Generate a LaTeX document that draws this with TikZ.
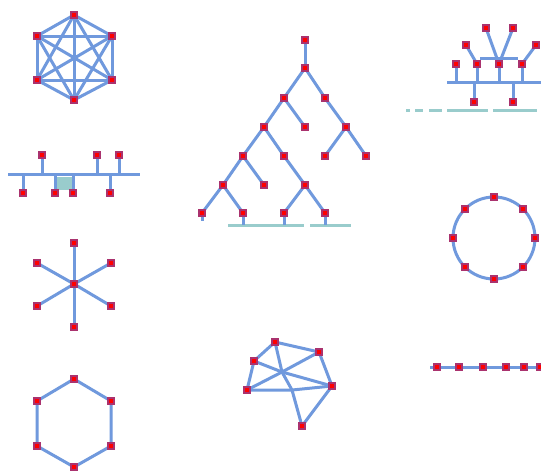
\documentclass[tikz,border=0pt]{standalone}
\usetikzlibrary{backgrounds}
\definecolor{linkblue}{RGB}{112,153,221}
\definecolor{linkteal}{RGB}{153,204,204}
\definecolor{nodepurple}{RGB}{170,50,110}
\begin{document}
\begin{tikzpicture}[x=1pt,y=-1pt,
  nd/.style={rectangle, fill=red, draw=nodepurple, line width=2.2pt, minimum size=5.5pt, inner sep=0pt},
  ln/.style={draw=linkblue, line width=3pt},
  tl/.style={draw=linkteal, line width=3pt}]
\useasboundingbox (0,0) rectangle (541,475);
% ---------- nodes ----------
% complete mesh
\node[nd] (k1) at (74,15) {};
\node[nd] (k2) at (112,36) {};
\node[nd] (k3) at (112,80) {};
\node[nd] (k4) at (74,100) {};
\node[nd] (k5) at (37,80) {};
\node[nd] (k6) at (37,36) {};
\coordinate (kc) at (74,58);
% bus
\coordinate (bl) at (8,174);
\coordinate (br) at (140,174);
\node[nd] (b1) at (42,155) {};
\node[nd] (b2) at (97,155) {};
\node[nd] (b3) at (119,155) {};
\node[nd] (b4) at (23,193) {};
\node[nd] (b5) at (55,193) {};
\node[nd] (b6) at (73,193) {};
\node[nd] (b7) at (110,193) {};
% star
\node[nd] (s0) at (74,284) {};
\node[nd] (s1) at (74,243) {};
\node[nd] (s2) at (111,263) {};
\node[nd] (s3) at (111,306) {};
\node[nd] (s4) at (74,327) {};
\node[nd] (s5) at (37,306) {};
\node[nd] (s6) at (37,263) {};
% ring hexagon
\node[nd] (h1) at (74,379) {};
\node[nd] (h2) at (111,401) {};
\node[nd] (h3) at (111,446) {};
\node[nd] (h4) at (74,467) {};
\node[nd] (h5) at (37,446) {};
\node[nd] (h6) at (37,401) {};
% tree
\node[nd] (t0) at (305,40) {};
\node[nd] (t1) at (305,68) {};
\node[nd] (t2) at (284,98) {};
\node[nd] (t3) at (325,98) {};
\node[nd] (t4) at (264,127) {};
\node[nd] (t5) at (305,127) {};
\node[nd] (t6) at (346,127) {};
\node[nd] (t7) at (243,156) {};
\node[nd] (t8) at (284,156) {};
\node[nd] (t9) at (325,156) {};
\node[nd] (t10) at (366,156) {};
\node[nd] (t11) at (223,185) {};
\node[nd] (t12) at (264,185) {};
\node[nd] (t13) at (305,185) {};
\node[nd] (t14) at (202,213) {};
\node[nd] (t15) at (243,213) {};
\node[nd] (t16) at (284,213) {};
\node[nd] (t17) at (325,213) {};
\coordinate (tb1a) at (228,225);
\coordinate (tb1b) at (304,225);
\coordinate (tb2a) at (310,225);
\coordinate (tb2b) at (351,225);
% top right
\node[nd] (c1) at (486,28) {};
\node[nd] (c2) at (513,28) {};
\node[nd] (c3) at (466,45) {};
\node[nd] (c4) at (536,45) {};
\node[nd] (c5) at (456,64) {};
\node[nd] (c6) at (477,64) {};
\node[nd] (c7) at (499,64) {};
\node[nd] (c8) at (522,64) {};
\node[nd] (c9) at (474,102) {};
\node[nd] (c10) at (513,102) {};
\coordinate (cbl) at (447,82);
\coordinate (cbr) at (541,82);
\coordinate (chl) at (480,58);
\coordinate (chr) at (518,58);
% ring circle
\coordinate (rc) at (494,238);
\node[nd] (r1) at (494,197) {};
\node[nd] (r2) at (523,209) {};
\node[nd] (r3) at (535,238) {};
\node[nd] (r4) at (523,267) {};
\node[nd] (r5) at (494,279) {};
\node[nd] (r6) at (465,267) {};
\node[nd] (r7) at (453,238) {};
\node[nd] (r8) at (465,209) {};
% line
\coordinate (ll) at (430,367);
\coordinate (lr) at (541,367);
\node[nd] (l1) at (437,367) {};
\node[nd] (l2) at (459,367) {};
\node[nd] (l3) at (483,367) {};
\node[nd] (l4) at (506,367) {};
\node[nd] (l5) at (524,367) {};
\node[nd] (l6) at (540,367) {};
% partial mesh
\node[nd] (m1) at (275,342) {};
\node[nd] (m2) at (319,352) {};
\node[nd] (m3) at (254,361) {};
\node[nd] (m4) at (332,386) {};
\node[nd] (m5) at (247,390) {};
\node[nd] (m6) at (302,426) {};
\coordinate (mh) at (282,372);
\coordinate (mj) at (292,390);
% ---------- connectors ----------
\begin{scope}[on background layer]
\fill[white] (0,0) rectangle (541,475);
% complete mesh
\foreach \a/\b in {k1/k2,k1/k3,k1/k4,k1/k5,k1/k6,k2/k3,k2/k4,k2/k5,k2/k6,k3/k4,k3/k5,k3/k6,k4/k5,k4/k6,k5/k6}
  \draw[ln] (\a.center) -- (\b.center);
% bus
\fill[linkteal] (57,177) rectangle (72,190);
\draw[ln] (bl) -- (br);
\foreach \n in {b1,b2,b3,b4,b5,b6,b7}
  \draw[ln] (\n.center) -- (\n.center |- bl);
% star
\foreach \n in {s1,s2,s3,s4,s5,s6}
  \draw[ln] (s0.center) -- (\n.center);
% ring hexagon
\draw[ln] (h1.center) -- (h2.center) -- (h3.center) -- (h4.center) -- (h5.center) -- (h6.center) -- cycle;
% tree
\foreach \a/\b in {t0/t1,t1/t2,t1/t3,t2/t4,t2/t5,t3/t6,t4/t7,t4/t8,t6/t9,t6/t10,t7/t11,t7/t12,t8/t13,t11/t14,t11/t15,t13/t16,t13/t17}
  \draw[ln] (\a.center) -- (\b.center);
\draw[tl] (tb1a) -- (tb1b);
\draw[tl] (tb2a) -- (tb2b);
\draw[ln] (t14.center) -- ++(0,8);
\foreach \n in {t15,t16,t17}
  \draw[ln] (\n.center) -- (\n.center |- tb1a);
% top right
\draw[tl] (406,110) -- (410,110);
\draw[tl] (415,110) -- (423,110);
\draw[tl] (429,110) -- (442,110);
\draw[tl] (447,110) -- (488,110);
\draw[tl] (493,110) -- (537,110);
\draw[ln] (cbl) -- (cbr);
\foreach \n in {c5,c6,c7,c8,c9,c10}
  \draw[ln] (\n.center) -- (\n.center |- cbl);
\foreach \a/\b in {c3/c6,c4/c8,c1/c7,c2/c7}
  \draw[ln] (\a.center) -- (\b.center);
\draw[ln] (chl) -- (chr);
% ring circle
\draw[ln] (rc) circle[radius=41pt];
% line
\draw[ln] (ll) -- (lr);
% partial mesh
\foreach \a/\b in {m1/m2,m2/m4,m4/m6,m1/m3,m3/m5}
  \draw[ln] (\a.center) -- (\b.center);
\draw[ln] (m5.center) -- (mj) -- (m4.center);
\draw[ln] (mh) -- (mj) -- (m6.center);
\foreach \n in {m1,m2,m3,m4,m5}
  \draw[ln] (mh) -- (\n.center);
\end{scope}
\end{tikzpicture}
\end{document}
